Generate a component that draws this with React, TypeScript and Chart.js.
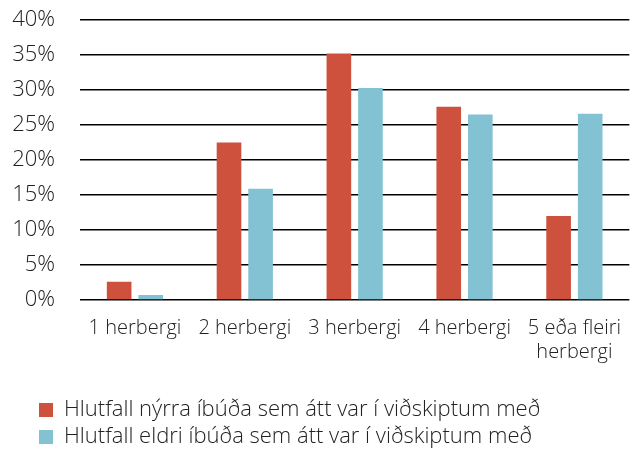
import React, { useEffect, useRef } from "react";
import { Chart, registerables } from "chart.js";

Chart.register(...registerables);

const categories: (string | string[])[] = [
  "1 herbergi",
  "2 herbergi",
  "3 herbergi",
  "4 herbergi",
  ["5 eða fleiri", "herbergi"],
];
const seriesNames = [
  "Hlutfall nýrra íbúða sem átt var í viðskiptum með",
  "Hlutfall eldri íbúða sem átt var í viðskiptum með",
];
const newerValues = [2.6, 22.5, 35.2, 27.6, 12.0];
const olderValues = [0.7, 15.9, 30.3, 26.5, 26.6];
const yMin = 0;
const yMax = 40;
const yStep = 5;

const RED = "#CE513D";
const BLUE = "#83C2D3";
const FONT = "'Open Sans', Lato, sans-serif";

const legendShift = {
  id: "legendShift",
  afterLayout(chart: any) {
    if (chart.legend) {
      chart.legend.left = 34;
    }
  },
};

export default function App() {
  const ref = useRef<HTMLCanvasElement | null>(null);
  useEffect(() => {
    if (!ref.current) return;
    const chart = new Chart(ref.current, {
      type: "bar",
      data: {
        labels: categories,
        datasets: [
          {
            label: seriesNames[0],
            data: newerValues,
            backgroundColor: RED,
            barPercentage: 0.78,
            categoryPercentage: 0.575,
          },
          {
            label: seriesNames[1],
            data: olderValues,
            backgroundColor: BLUE,
            barPercentage: 0.78,
            categoryPercentage: 0.575,
          },
        ],
      },
      options: {
        animation: false,
        responsive: true,
        maintainAspectRatio: false,
        layout: { padding: { top: 20, left: 2, right: 0, bottom: -8 } },
        plugins: {
          tooltip: { enabled: false },
          legend: {
            position: "bottom",
            align: "start",
            labels: {
              color: "#222",
              font: { family: FONT, size: 22, weight: 300 },
              boxWidth: 14,
              boxHeight: 14,
              padding: 5,
            },
          },
        },
        scales: {
          x: {
            grid: { display: false, drawTicks: false },
            border: { display: false },
            afterFit: (scale: any) => {
              scale.height += 14;
            },
            ticks: {
              color: "#222",
              font: { family: FONT, size: 20, weight: 300 },
              maxRotation: 0,
              autoSkip: false,
              padding: 16,
            },
          },
          y: {
            min: yMin,
            max: yMax,
            afterFit: (scale: any) => {
              scale.width = 78;
            },
            grid: {
              color: "#000",
              lineWidth: 1.5,
              drawTicks: true,
              tickLength: 24,
              tickColor: "rgba(0,0,0,0)",
            },
            border: { display: false },
            ticks: {
              stepSize: yStep,
              color: "#222",
              font: { family: FONT, size: 22, weight: 300 },
              padding: 1,
              callback: (v: any) => `${v}%`,
            },
          },
        },
      },
      plugins: [legendShift],
    });
    return () => chart.destroy();
  }, []);
  return (
    <div style={{ position: "absolute", left: 0, top: 0, width: 637, height: 450 }}>
      <canvas ref={ref} />
    </div>
  );
}
